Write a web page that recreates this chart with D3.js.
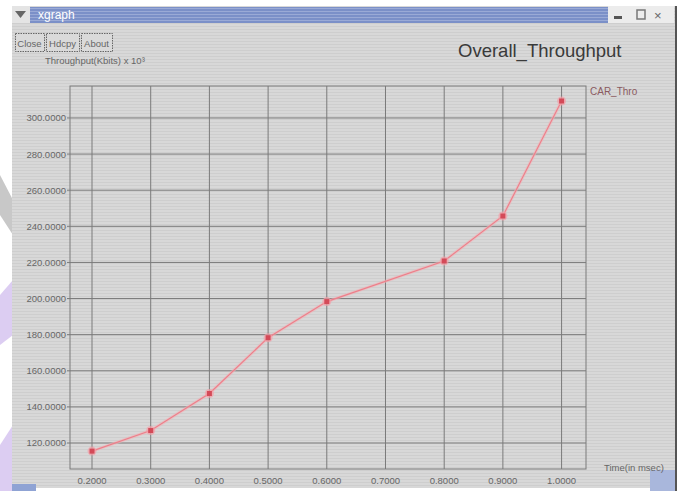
<!DOCTYPE html>
<html><head><meta charset="utf-8">
<script src="https://cdn.jsdelivr.net/npm/d3@7"></script>
<style>
html,body{margin:0;padding:0;background:#fff;}
svg{display:block;}
text{font-family:"Liberation Sans",Arial,sans-serif;}
</style></head>
<body>
<script>
// ---- data ----
const xValues = [0.2, 0.3, 0.4, 0.5, 0.6, 0.8, 0.9, 1.0];
const throughput = [115.5, 126.9, 147.4, 178.3, 198.3, 220.8, 245.7, 309.4];
const xTicks = [0.2, 0.3, 0.4, 0.5, 0.6, 0.7, 0.8, 0.9, 1.0];
const yTicks = [120, 140, 160, 180, 200, 220, 240, 260, 280, 300];
const seriesName = "CAR_Thro";
const chartTitle = "Overall_Throughput";
const yAxisLabel = "Throughput(Kbits) x 10³";
const xAxisLabel = "Time(in msec)";
const buttons = ["Close", "Hdcpy", "About"];

const W = 684, H = 491;
const svg = d3.select("body").append("svg").attr("width", W).attr("height", H);
const defs = svg.append("defs");
const pat = defs.append("pattern").attr("id","stripes").attr("width",4).attr("height",3)
  .attr("patternUnits","userSpaceOnUse");
pat.append("rect").attr("width",4).attr("height",3).attr("fill","#d8d8d8");
pat.append("rect").attr("y",2).attr("width",4).attr("height",1).attr("fill","#cecece");
const bpat = defs.append("pattern").attr("id","bstripes").attr("width",4).attr("height",3)
  .attr("patternUnits","userSpaceOnUse");
bpat.append("rect").attr("width",4).attr("height",3).attr("fill","#7b90c8");
bpat.append("rect").attr("y",2).attr("width",4).attr("height",1).attr("fill","#9aaad6");

// outside decorations
svg.append("rect").attr("width",W).attr("height",H).attr("fill","#ffffff");
svg.append("path").attr("d","M0,175 L13,200 L13,235 L0,215 Z").attr("fill","#c8c8c8");
svg.append("path").attr("d","M0,295 L13,280 L13,335 L0,345 Z").attr("fill","#dccdf2");
svg.append("path").attr("d","M0,445 L13,425 L13,491 L0,491 Z").attr("fill","#dccdf2");

// window
svg.append("rect").attr("x",12).attr("y",6).attr("width",664).attr("height",482).attr("fill","url(#stripes)");
svg.append("line").attr("x1",676).attr("x2",676).attr("y1",6).attr("y2",491).attr("stroke","#555").attr("stroke-width",2);
svg.append("rect").attr("x",30).attr("y",7).attr("width",578).attr("height",16).attr("fill","url(#bstripes)");
svg.append("rect").attr("x",12).attr("y",6).attr("width",18).attr("height",17).attr("fill","#e4e4e4");
svg.append("path").attr("d","M15,11 L26,11 L20.5,18 Z").attr("fill","#666");
svg.append("text").attr("x",38).attr("y",19).attr("fill","#fff").attr("font-size",12).text("xgraph");
svg.append("rect").attr("x",608).attr("y",6).attr("width",66).attr("height",17).attr("fill","#ececec");
svg.append("rect").attr("x",614).attr("y",16).attr("width",8).attr("height",3).attr("fill","#555");
svg.append("rect").attr("x",637).attr("y",10).attr("width",8).attr("height",9).attr("fill","none").attr("stroke","#777").attr("stroke-width",1.5);
svg.append("text").attr("x",654).attr("y",20).attr("fill","#666").attr("font-size",13).text("×");
svg.append("rect").attr("x",12).attr("y",484).attr("width",24).attr("height",7).attr("fill","#8fa3d4");
svg.append("rect").attr("x",650).attr("y",470).attr("width",25).attr("height",21).attr("fill","#a9b7dc");

// buttons
const bx = [15, 46, 81], bw = [29, 33, 31];
buttons.forEach((b,i)=>{
  svg.append("rect").attr("x",bx[i]+0.5).attr("y",33.5).attr("width",bw[i]).attr("height",18)
    .attr("fill","#dadada").attr("stroke","#666").attr("stroke-dasharray","1.5,1");
  svg.append("text").attr("x",bx[i]+bw[i]/2).attr("y",46.5).attr("text-anchor","middle")
    .attr("font-size",9.5).attr("fill","#666").text(b);
});

// title & labels
svg.append("text").attr("x",458).attr("y",57).attr("font-size",18.5).attr("fill","#3a3a3a").text(chartTitle);
svg.append("text").attr("x",45).attr("y",64).attr("font-size",9.5).attr("fill","#666").text(yAxisLabel);
svg.append("text").attr("x",604).attr("y",471).attr("font-size",9.5).attr("fill","#666").text(xAxisLabel);

// scales
const x = d3.scaleLinear().domain([0.1625, 1.0416]).range([70, 586]);
const y = d3.scaleLinear().domain([105.6, 317.7]).range([469, 86]);

// grid
const g = svg.append("g");
g.selectAll(".vg").data(xTicks).join("line")
  .attr("x1",d=>x(d)).attr("x2",d=>x(d)).attr("y1",86).attr("y2",469)
  .attr("stroke","#7a7a7a").attr("stroke-width",1);
g.selectAll(".hg").data(yTicks).join("line")
  .attr("x1",67).attr("x2",586).attr("y1",d=>y(d)).attr("y2",d=>y(d))
  .attr("stroke","#7a7a7a").attr("stroke-width",1);
g.append("rect").attr("x",70).attr("y",86).attr("width",516).attr("height",383)
  .attr("fill","none").attr("stroke","#7a7a7a");

// tick labels
g.selectAll(".yl").data(yTicks).join("text")
  .attr("x",66).attr("y",d=>y(d)+3.5).attr("text-anchor","end")
  .attr("font-size",9.5).attr("fill","#666").text(d=>d3.format(".4f")(d));
g.selectAll(".xl").data(xTicks).join("text")
  .attr("x",d=>x(d)).attr("y",484).attr("text-anchor","middle")
  .attr("font-size",9.5).attr("fill","#666").text(d=>d3.format(".4f")(d));

// series
const pts = xValues.map((v,i)=>[v, throughput[i]]);
const line = d3.line().x(d=>x(d[0])).y(d=>y(d[1])).curve(d3.curveLinear);
g.append("path").attr("d",line(pts)).attr("fill","none").attr("stroke","#f4b0b6").attr("stroke-width",3).attr("opacity",0.6);
g.append("path").attr("d",line(pts)).attr("fill","none").attr("stroke","#ec7f8a").attr("stroke-width",1.1);
g.selectAll(".mk").data(pts).join("circle")
  .attr("cx",d=>x(d[0])).attr("cy",d=>y(d[1])).attr("r",4.5).attr("fill","#f4a0a8").attr("opacity",0.7);
g.selectAll(".mk2").data(pts).join("rect")
  .attr("x",d=>x(d[0])-2.5).attr("y",d=>y(d[1])-2.5).attr("width",5).attr("height",5).attr("fill","#d44a58");

svg.append("text").attr("x",590).attr("y",95).attr("font-size",10).attr("fill","#8a5a60").text(seriesName);
</script>
</body></html>
